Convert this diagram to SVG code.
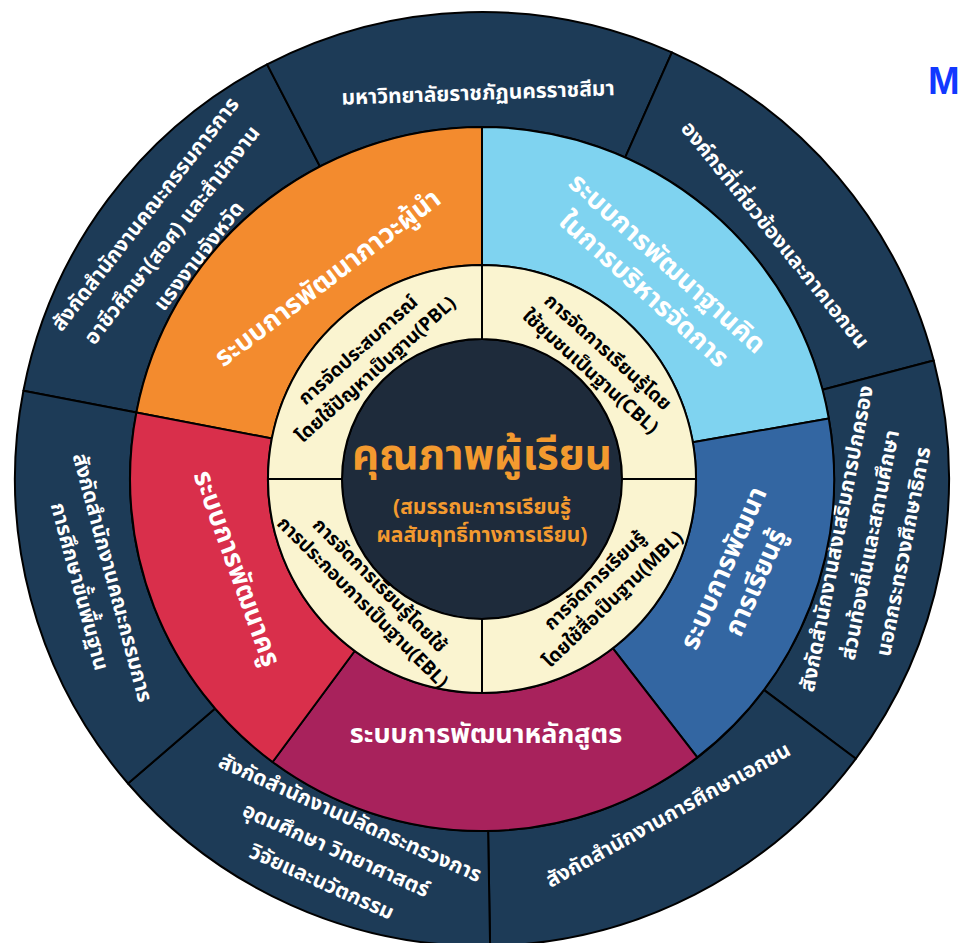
<svg xmlns="http://www.w3.org/2000/svg" width="961" height="943" viewBox="0 0 961 943">
<style>
.seg{stroke:#000;stroke-width:2;stroke-linejoin:round}
.outer{fill:#1d3b57}
.th{font-family:'Noto Sans Thai','Noto Sans','DejaVu Sans',sans-serif;font-weight:bold;text-anchor:middle}
.ow{fill:#fff;font-size:21px}
.mw{fill:#fff;font-size:27px}
.cb{fill:#000;font-size:19px}
.co{fill:#f39a2f}
</style>
<rect width="961" height="943" fill="#fff"/>
<g id="outer-ring">
<g id="s1"><path class="seg outer" d="M23.4,390.7 A467,467 0 0 1 267.1,64.4 L320,166.5 A352,352 0 0 0 136.4,412.4 Z"/>
<text class="th ow" transform="translate(172 235) rotate(-52)"><tspan x="0" y="-27">สังกัดสำนักงานคณะกรรมการการ</tspan><tspan x="0" y="7">อาชีวศึกษา(สอศ) และสำนักงาน</tspan><tspan x="0" y="41">แรงงานจังหวัด</tspan></text></g>
<g id="s2"><path class="seg outer" d="M267.1,64.4 A467,467 0 0 1 671.9,52.4 L625.2,157.4 A352,352 0 0 0 320,166.5 Z"/>
<text class="th ow" transform="translate(478 93) rotate(-2)"><tspan x="0" y="7">มหาวิทยาลัยราชภัฏนครราชสีมา</tspan></text></g>
<g id="s3"><path class="seg outer" d="M671.9,52.4 A467,467 0 0 1 933.7,360.5 L822.5,389.7 A352,352 0 0 0 625.2,157.4 Z"/>
<text class="th ow" transform="translate(775 235) rotate(51)"><tspan x="0" y="7">องค์กรที่เกี่ยวข้องและภาคเอกชน</tspan></text></g>
<g id="s4"><path class="seg outer" d="M933.7,360.5 A467,467 0 0 1 855.9,758.7 L763.9,689.9 A352,352 0 0 0 822.5,389.7 Z"/>
<text class="th ow" transform="translate(870 545) rotate(-79)"><tspan x="0" y="-27">สังกัดสำนักงานส่งเสริมการปกครอง</tspan><tspan x="0" y="7">ส่วนท้องถิ่นและสถานศึกษา</tspan><tspan x="0" y="41">นอกกระทรวงศึกษาธิการ</tspan></text></g>
<g id="s5"><path class="seg outer" d="M855.9,758.7 A467,467 0 0 1 490.1,945.9 L488.1,830.9 A352,352 0 0 0 763.9,689.9 Z"/>
<text class="th ow" transform="translate(668 815) rotate(-29)"><tspan x="0" y="7">สังกัดสำนักงานการศึกษาเอกชน</tspan></text></g>
<g id="s6"><path class="seg outer" d="M490.1,945.9 A467,467 0 0 1 128,783.5 L215.1,708.5 A352,352 0 0 0 488.1,830.9 Z"/>
<text class="th ow" transform="translate(336 850) rotate(24)"><tspan x="0" y="-28">สังกัดสำนักงานปลัดกระทรวงการ</tspan><tspan x="0" y="7">อุดมศึกษา วิทยาศาสตร์</tspan><tspan x="0" y="42">วิจัยและนวัตกรรม</tspan></text></g>
<g id="s7"><path class="seg outer" d="M128,783.5 A467,467 0 0 1 23.4,390.7 L136.4,412.4 A352,352 0 0 0 215.1,708.5 Z"/>
<text class="th ow" transform="translate(96 582) rotate(75)"><tspan x="0" y="-10">สังกัดสำนักงานคณะกรรมการ</tspan><tspan x="0" y="24">การศึกษาขั้นพื้นฐาน</tspan></text></g>
</g>
<g id="middle-ring">
<g id="leadership"><path class="seg" fill="#f38b2e" d="M136.4,412.4 A352,352 0 0 1 482,127 L482,265 A214,214 0 0 0 271.9,438.5 Z"/>
<text class="th mw" transform="translate(327 277) rotate(-37)"><tspan x="0" y="10">ระบบการพัฒนาภาวะผู้นำ</tspan></text></g>
<g id="governance"><path class="seg" fill="#7fd3f0" d="M482,127 A352,352 0 0 1 828.8,418.5 L692.8,442.2 A214,214 0 0 0 482,265 Z"/>
<text class="th mw" transform="translate(656 276) rotate(42)"><tspan x="0" y="-8">ระบบการพัฒนาฐานคิด</tspan><tspan x="0" y="27">ในการบริหารจัดการ</tspan></text></g>
<g id="learning"><path class="seg" fill="#3366a2" d="M828.8,418.5 A352,352 0 0 1 697.3,757.4 L612.9,648.3 A214,214 0 0 0 692.8,442.2 Z"/>
<text class="th mw" transform="translate(739 575) rotate(-66)"><tspan x="0" y="-8">ระบบการพัฒนา</tspan><tspan x="0" y="27">การเรียนรู้</tspan></text></g>
<g id="curriculum"><path class="seg" fill="#a8225c" d="M697.3,757.4 A352,352 0 0 1 272.6,762 L354.7,651 A214,214 0 0 0 612.9,648.3 Z"/>
<text class="th mw" transform="translate(486 733)"><tspan x="0" y="10">ระบบการพัฒนาหลักสูตร</tspan></text></g>
<g id="teacher"><path class="seg" fill="#d92f4b" d="M272.6,762 A352,352 0 0 1 136.4,412.4 L271.9,438.5 A214,214 0 0 0 354.7,651 Z"/>
<text class="th mw" transform="translate(238 568) rotate(70)"><tspan x="0" y="10">ระบบการพัฒนาครู</tspan></text></g>
</g>
<g id="center">
<circle class="seg" cx="482" cy="479" r="140" fill="#1e2b3b"/>
</g>
<g id="inner-ring">
<g id="pbl"><path class="seg" fill="#faf4d0" d="M268,479 A214,214 0 0 1 482,265 L482,339 A140,140 0 0 0 342,479 Z"/>
<text class="th cb" transform="translate(367 360) rotate(-42)"><tspan x="0" y="-7">การจัดประสบการณ์</tspan><tspan x="0" y="19">โดยใช้ปัญหาเป็นฐาน(PBL)</tspan></text></g>
<g id="cbl"><path class="seg" fill="#faf4d0" d="M482,265 A214,214 0 0 1 696,479 L622,479 A140,140 0 0 0 482,339 Z"/>
<text class="th cb" transform="translate(599 362) rotate(42)"><tspan x="0" y="-7">การจัดการเรียนรู้โดย</tspan><tspan x="0" y="19">ใช้ชุมชนเป็นฐาน(CBL)</tspan></text></g>
<g id="mbl"><path class="seg" fill="#faf4d0" d="M696,479 A214,214 0 0 1 482,693 L482,619 A140,140 0 0 0 622,479 Z"/>
<text class="th cb" transform="translate(604 590) rotate(-44)"><tspan x="0" y="-7">การจัดการเรียนรู้</tspan><tspan x="0" y="19">โดยใช้สื่อเป็นฐาน(MBL)</tspan></text></g>
<g id="ebl"><path class="seg" fill="#faf4d0" d="M482,693 A214,214 0 0 1 268,479 L342,479 A140,140 0 0 0 482,619 Z"/>
<text class="th cb" transform="translate(371 594) rotate(45)"><tspan x="0" y="-6">การจัดการเรียนรู้โดยใช้</tspan><tspan x="0" y="18">การประกอบการเป็นฐาน(EBL)</tspan></text></g>
</g>
<g id="center-text">
<text class="th co" x="482" y="469" font-size="42">คุณภาพผู้เรียน</text>
<text class="th co" x="482" y="514" font-size="21">(สมรรถนะการเรียนรู้</text>
<text class="th co" x="482" y="542" font-size="21">ผลสัมฤทธิ์ทางการเรียน)</text>
</g>
<text x="928" y="94" font-family="'Liberation Sans',Arial,sans-serif" font-weight="bold" font-size="38" fill="#1238ff">M</text>
</svg>
